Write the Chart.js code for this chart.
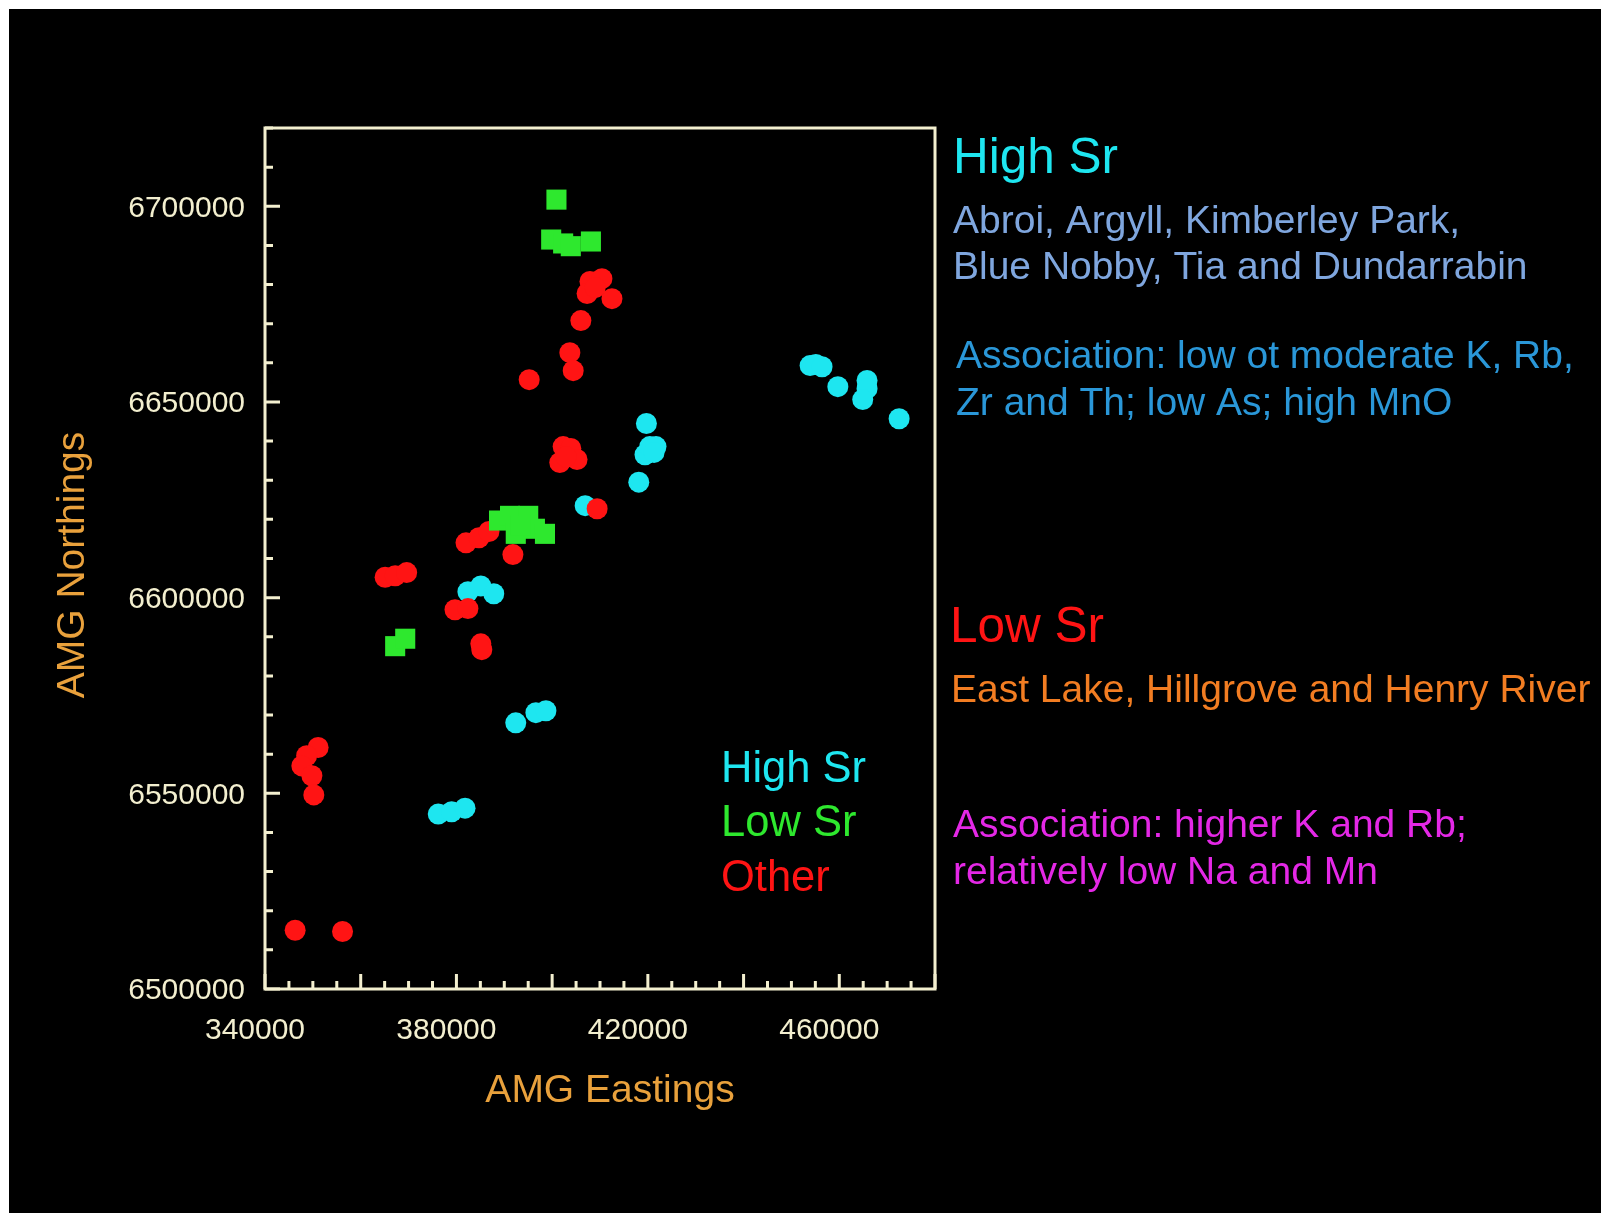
<!DOCTYPE html>
<html>
<head>
<meta charset="utf-8">
<title>AMG Eastings vs Northings</title>
<script src="https://cdn.jsdelivr.net/npm/chart.js@4.4.1/dist/chart.umd.min.js"></script>
<style>
  html, body { margin: 0; padding: 0; background: #ffffff; }
  #wrap { width: 1601px; height: 1213px; }
</style>
</head>
<body>
<div id="wrap"><canvas id="chart" width="1601" height="1213"></canvas></div>
<script>
// Sample locations (AMG Eastings / Northings) by group
const highSrEast  = [376200, 379000, 381800, 392400, 396600, 398700, 382400, 385100, 387800, 406900, 418100,
                     419400, 420400, 421700, 421300, 419700, 453900, 455100, 456400, 459700, 465800, 465800,
                     464900, 472500];
const highSrNorth = [6544700, 6545300, 6546200, 6568000, 6570600, 6571100, 6601500, 6603000, 6601000, 6623500, 6629500,
                     6636500, 6638600, 6638600, 6637100, 6644500, 6659300, 6659600, 6659000, 6653900, 6655500, 6653400,
                     6650600, 6645700];

const lowSrEast  = [400900, 399800, 402300, 403900, 408100, 388900, 391200, 395000, 392400, 396400, 398500,
                    393300, 367200, 369300];
const lowSrNorth = [6701700, 6691500, 6690500, 6689800, 6691000, 6619700, 6620900, 6620900, 6616300, 6617600, 6616300,
                    6618400, 6587600, 6589500];

const otherEast  = [351100, 348700, 347700, 349800, 350200, 346300, 356200, 365100, 367200, 369600, 379700,
                    382400, 385100, 385300, 382000, 384700, 386800, 391800, 395200, 403700, 404400, 406000,
                    407900, 410400, 407300, 412500, 409000, 402300, 403900, 401600, 405200, 402900, 409400];
const otherNorth = [6561700, 6559600, 6557000, 6554500, 6549600, 6515000, 6514700, 6605200, 6605600, 6606400, 6596900,
                    6597200, 6588200, 6586700, 6614000, 6615300, 6616900, 6611000, 6655700, 6662600, 6658000, 6670800,
                    6680800, 6681500, 6677700, 6676400, 6679200, 6638600, 6638100, 6634500, 6635300, 6636000, 6622700];

// Axis ranges and labelled tick values
const eastRange  = [340000, 480000];
const northRange = [6500000, 6720000];
const eastLabels  = [340000, 380000, 420000, 460000];
const northLabels = [6500000, 6550000, 6600000, 6650000, 6700000];

const seriesNames = ['High Sr', 'Low Sr', 'Other'];
const axisTitles = ['AMG Eastings', 'AMG Northings'];

// Notes beside the plot
const highSrHeading = 'High Sr';
const highSrSites   = ['Abroi, Argyll, Kimberley Park,', 'Blue Nobby, Tia and Dundarrabin'];
const highSrAssoc   = ['Association: low ot moderate K, Rb,', 'Zr and Th; low As; high MnO'];
const lowSrHeading  = 'Low Sr';
const lowSrSites    = ['East Lake, Hillgrove and Henry River'];
const lowSrAssoc    = ['Association: higher K and Rb;', 'relatively low Na and Mn'];

const FONT = '"Liberation Sans", Arial, Helvetica, sans-serif';
const CREAM = '#f3efcf';
const ORANGE = '#e9a13c';
const CYAN = '#1ee6f0';
const GREEN = '#2ee82e';
const RED = '#ff1414';

function pts(xs, ys) { return xs.map((x, i) => ({ x: x, y: ys[i] })); }

// Page background: white margin, black slide
const backdrop = {
  id: 'backdrop',
  beforeDraw(chart) {
    const ctx = chart.ctx;
    ctx.save();
    ctx.fillStyle = '#ffffff';
    ctx.fillRect(0, 0, chart.width, chart.height);
    ctx.fillStyle = '#000000';
    ctx.fillRect(9, 9, chart.width - 9, chart.height - 9);
    ctx.restore();
  }
};

// Boxed frame with inward tick marks, axis titles, in-plot key and side notes
const decorations = {
  id: 'decorations',
  afterDraw(chart) {
    const ctx = chart.ctx;
    const a = chart.chartArea;
    const xs = chart.scales.x, ys = chart.scales.y;
    ctx.save();
    ctx.strokeStyle = CREAM;
    ctx.lineWidth = 3;
    ctx.lineCap = 'butt';
    ctx.strokeRect(a.left, a.top, a.right - a.left, a.bottom - a.top);

    ctx.beginPath();
    xs.ticks.forEach(t => {
      const v = Math.round(t.value);
      const px = xs.getPixelForValue(v);
      const len = (v % 20000 === 0) ? 15 : 8;
      ctx.moveTo(px, a.bottom);
      ctx.lineTo(px, a.bottom - len);
    });
    ys.ticks.forEach(t => {
      const v = Math.round(t.value);
      const py = ys.getPixelForValue(v);
      const len = (v % 50000 === 0) ? 15 : 8;
      ctx.moveTo(a.left, py);
      ctx.lineTo(a.left + len, py);
    });
    ctx.stroke();

    // axis titles
    ctx.fillStyle = ORANGE;
    ctx.font = '39px ' + FONT;
    ctx.textAlign = 'center';
    ctx.textBaseline = 'middle';
    ctx.fillText(axisTitles[0], 610, 1091);
    ctx.save();
    ctx.translate(73, 565);
    ctx.rotate(-Math.PI / 2);
    ctx.fillText(axisTitles[1], 0, 0);
    ctx.restore();

    // key inside the plot, coloured like each group
    ctx.textAlign = 'left';
    ctx.font = '43.5px ' + FONT;
    const keyY = [770, 824, 879];
    chart.data.datasets.forEach((ds, i) => {
      ctx.fillStyle = ds.backgroundColor;
      ctx.fillText(ds.label, 721, keyY[i]);
    });

    // side notes
    ctx.font = '49.5px ' + FONT;
    ctx.fillStyle = CYAN;
    ctx.fillText(highSrHeading, 953, 159);
    ctx.font = '39px ' + FONT;
    ctx.fillStyle = '#7fa6de';
    highSrSites.forEach((s, i) => ctx.fillText(s, 953, 222 + i * 46.5));
    ctx.fillStyle = '#2a97d8';
    highSrAssoc.forEach((s, i) => ctx.fillText(s, 956, 357 + i * 47));

    ctx.font = '49.5px ' + FONT;
    ctx.fillStyle = RED;
    ctx.fillText(lowSrHeading, 950, 628);
    ctx.font = '39px ' + FONT;
    ctx.fillStyle = '#f27d22';
    lowSrSites.forEach((s, i) => ctx.fillText(s, 951, 691 + i * 47));
    ctx.fillStyle = '#e428e6';
    lowSrAssoc.forEach((s, i) => ctx.fillText(s, 953, 826 + i * 47));
    ctx.restore();
  }
};

new Chart(document.getElementById('chart'), {
  type: 'scatter',
  data: {
    datasets: [
      { label: seriesNames[0], data: pts(highSrEast, highSrNorth), backgroundColor: CYAN, borderColor: CYAN,
        pointStyle: 'circle', pointRadius: 10.5, borderWidth: 0, order: 2 },
      { label: seriesNames[1], data: pts(lowSrEast, lowSrNorth), backgroundColor: GREEN, borderColor: GREEN,
        pointStyle: 'rect', pointRadius: 14.2, borderWidth: 0, order: 0 },
      { label: seriesNames[2], data: pts(otherEast, otherNorth), backgroundColor: RED, borderColor: RED,
        pointStyle: 'circle', pointRadius: 10.5, borderWidth: 0, order: 1 }
    ]
  },
  options: {
    responsive: false,
    animation: false,
    devicePixelRatio: 1,
    events: [],
    layout: { padding: { left: 0, top: 128, right: 666, bottom: 0 } },
    plugins: { legend: { display: false }, tooltip: { enabled: false }, title: { display: false } },
    scales: {
      x: {
        type: 'linear',
        min: eastRange[0], max: eastRange[1],
        afterFit(scale) { scale.height = 224; },
        grid: { display: false, drawTicks: false },
        border: { display: false },
        ticks: {
          stepSize: 5000,
          autoSkip: false,
          maxRotation: 0,
          padding: 24,
          labelOffset: -10,
          color: CREAM,
          font: { family: FONT, size: 30 },
          callback: v => eastLabels.includes(Math.round(v)) ? String(Math.round(v)) : ''
        }
      },
      y: {
        type: 'linear',
        min: northRange[0], max: northRange[1],
        afterFit(scale) { scale.width = 265; },
        grid: { display: false, drawTicks: false },
        border: { display: false },
        ticks: {
          stepSize: 10000,
          autoSkip: false,
          padding: 20,
          labelOffset: 2,
          color: CREAM,
          font: { family: FONT, size: 30 },
          callback: v => northLabels.includes(Math.round(v)) ? String(Math.round(v)) : ''
        }
      }
    }
  },
  plugins: [backdrop, decorations]
});
</script>
</body>
</html>
